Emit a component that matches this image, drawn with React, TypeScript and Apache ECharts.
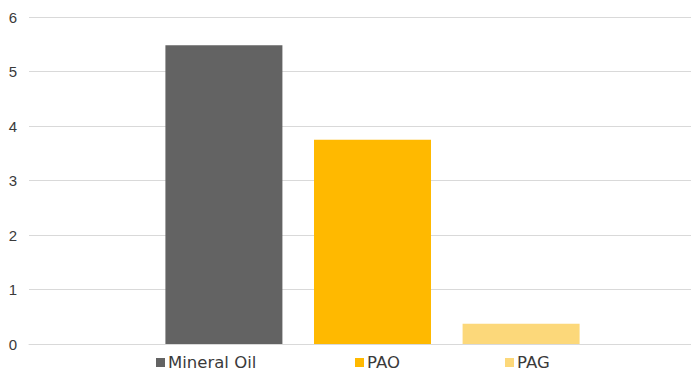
import React, { useEffect, useRef } from "react";
import * as echarts from "echarts";

const categories = [""];
const seriesNames = ["Mineral Oil", "PAO", "PAG"];
const seriesValues = [5.48, 3.75, 0.37];
const seriesColors = ["#636363", "#FFB900", "#FCD87A"];
const legendLefts = [156, 355, 505];

export default function App() {
  const ref = useRef<HTMLDivElement>(null);
  useEffect(() => {
    if (!ref.current) return;
    const chart = echarts.init(ref.current, undefined, { renderer: "svg" });
    chart.setOption({
      animation: false,
      grid: { left: 29, top: 17, width: 687, bottom: 27, outerBoundsMode: "none", containLabel: false },
      legend: seriesNames.map((n, i) => ({
        data: [n],
        left: legendLefts[i],
        top: 354,
        itemWidth: 9,
        itemHeight: 9,
        icon: "rect",
        itemGap: 3,
        padding: 0,
        textStyle: { fontFamily: "DejaVu Sans", fontSize: 16.5, color: "#3a3a3a", padding: [0, 0, 0, -2] },
      })),
      xAxis: {
        type: "category",
        data: categories,
        axisLine: { show: true, lineStyle: { color: "#d9d9d9", width: 1 } },
        axisTick: { show: false },
        axisLabel: { show: false },
      },
      yAxis: {
        type: "value",
        min: 0,
        max: 6,
        interval: 1,
        axisLine: { show: false },
        axisTick: { show: false },
        axisLabel: { margin: 12, fontFamily: "Liberation Sans", fontSize: 15, color: "#3a3a3a" },
        splitLine: { lineStyle: { color: "#d9d9d9", width: 1 } },
      },
      series: seriesNames.map((n, i) => ({
        name: n,
        type: "bar",
        data: [seriesValues[i]],
        barWidth: 117,
        barGap: "27%",
        itemStyle: { color: seriesColors[i] },
      })),
    });
    return () => chart.dispose();
  }, []);
  return <div ref={ref} style={{ width: 691, height: 371, position: "absolute", left: 0, top: 0 }} />;
}
